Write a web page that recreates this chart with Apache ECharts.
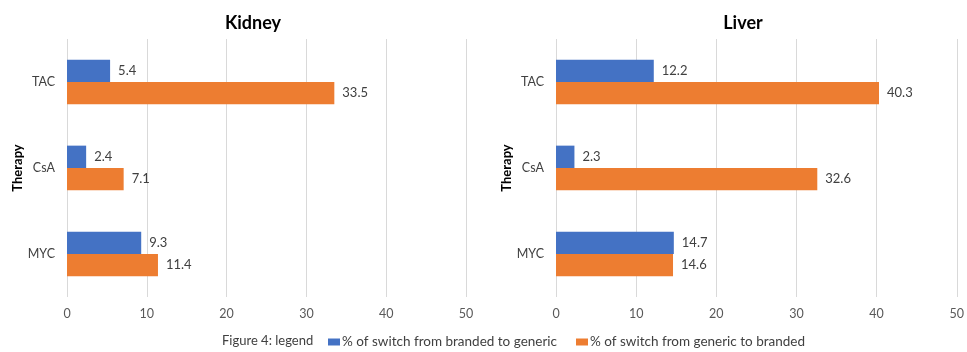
<!DOCTYPE html>
<html>
<head>
<meta charset="utf-8">
<script src="https://cdn.jsdelivr.net/npm/echarts@6/dist/echarts.min.js"></script>
<style>
  html, body { margin: 0; padding: 0; background: #fff; }
  #chart { width: 967px; height: 352px; }
</style>
</head>
<body>
<div id="chart"></div>
<script>
// Therapies shown on the category axis, top to bottom
const therapies = ['TAC', 'CsA', 'MYC'];

// Kidney transplant: % switching between branded and generic
const kidneyBrandedToGeneric = [5.4, 2.4, 9.3];
const kidneyGenericToBranded = [33.5, 7.1, 11.4];

// Liver transplant
const liverBrandedToGeneric = [12.2, 2.3, 14.7];
const liverGenericToBranded = [40.3, 32.6, 14.6];

const valueTicks = { min: 0, max: 50, interval: 10 };

const seriesNames = ['% of switch from branded to generic', '% of switch from generic to branded'];
const panelTitles = ['Kidney', 'Liver'];
const axisTitle = 'Therapy';
const figureCaption = 'Figure 4: legend';

const FONT = 'Lato, "Open Sans", sans-serif';
const BLUE = '#4472C4';
const ORANGE = '#ED7D31';

const chart = echarts.init(document.getElementById('chart'), null, { renderer: 'canvas' });

function xAxisFor(idx) {
  return {
    type: 'value', gridIndex: idx,
    min: valueTicks.min, max: valueTicks.max, interval: valueTicks.interval,
    axisLine: { show: false }, axisTick: { show: false },
    axisLabel: { color: '#595959', fontSize: 12.5, fontFamily: FONT, margin: 10 },
    splitLine: { lineStyle: { color: '#D9D9D9', width: 1 } }
  };
}
function yAxisFor(idx) {
  return {
    type: 'category', gridIndex: idx, data: therapies, inverse: true,
    axisLine: { show: false }, axisTick: { show: false },
    axisLabel: { color: '#404040', fontSize: 12.5, fontFamily: FONT, margin: 12 },
    name: axisTitle, nameLocation: 'middle', nameRotate: 90, nameGap: 43,
    nameTextStyle: { color: '#000', fontSize: 13, fontWeight: 'bold', fontFamily: FONT }
  };
}
function barSeries(name, data, idx, color) {
  return {
    name, type: 'bar', data, xAxisIndex: idx, yAxisIndex: idx,
    itemStyle: { color },
    barGap: '0%', barCategoryGap: '48%',
    label: {
      show: true, position: 'right', distance: 8,
      color: '#404040', fontSize: 13, fontFamily: FONT,
      formatter: p => p.value.toFixed(1)
    }
  };
}

chart.setOption({
  animation: false,
  textStyle: { fontFamily: FONT },
  title: [
    { text: panelTitles[0], left: 248, top: 9, textAlign: 'center',
      textStyle: { fontSize: 18, fontWeight: 'bold', color: '#000', fontFamily: FONT } },
    { text: panelTitles[1], left: 738, top: 9, textAlign: 'center',
      textStyle: { fontSize: 18, fontWeight: 'bold', color: '#000', fontFamily: FONT } }
  ],
  grid: [
    { left: 67, right: 501, top: 39, bottom: 55 },
    { left: 556, right: 8, top: 39, bottom: 55 }
  ],
  xAxis: [xAxisFor(0), xAxisFor(1)],
  yAxis: [yAxisFor(0), yAxisFor(1)],
  legend: {
    data: seriesNames,
    left: 323, top: 330,
    itemWidth: 12, itemHeight: 7, itemGap: 19,
    icon: 'rect',
    textStyle: { color: '#404040', fontSize: 13.5, fontFamily: FONT, padding: [0, 0, 0, -3] }
  },
  graphic: [{
    type: 'text', left: 222, top: 334,
    style: { text: figureCaption, fill: '#404040', fontSize: 13, fontFamily: FONT }
  }],
  series: [
    barSeries(seriesNames[0], kidneyBrandedToGeneric, 0, BLUE),
    barSeries(seriesNames[1], kidneyGenericToBranded, 0, ORANGE),
    barSeries(seriesNames[0], liverBrandedToGeneric, 1, BLUE),
    barSeries(seriesNames[1], liverGenericToBranded, 1, ORANGE)
  ]
});
</script>
</body>
</html>
